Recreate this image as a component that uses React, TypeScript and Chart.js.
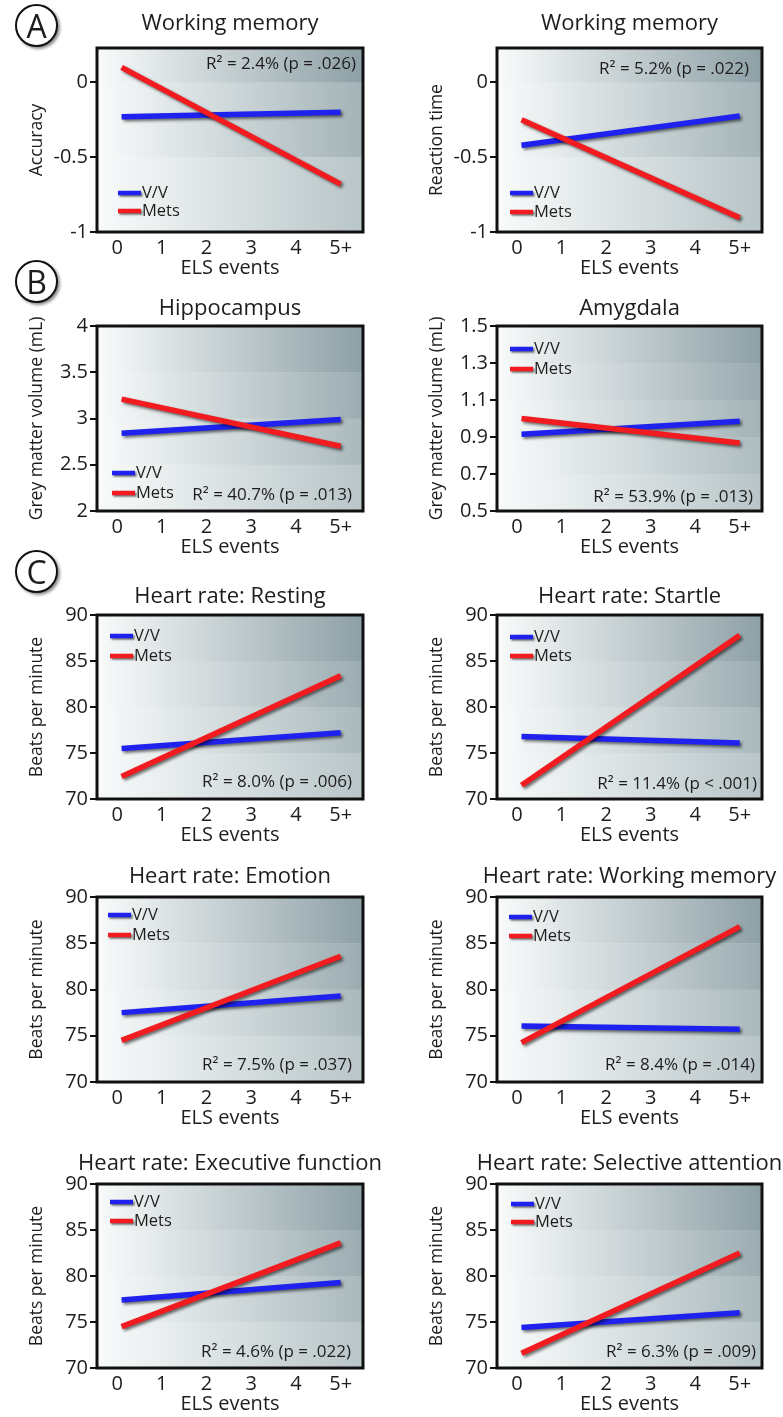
import React, { useEffect, useRef } from "react";
import { Chart, registerables } from "chart.js";

Chart.register(...registerables);

const FONT = "'Open Sans', 'Noto Sans', 'DejaVu Sans', sans-serif";
const TEXT = "#1e1c1d";
const BLUE = "#1f22ee";
const RED = "#f21b1f";

// ---- data ----
const elsLabels = ["0", "1", "2", "3", "4", "5+"];
const elsTickValues = [0, 1, 2, 3, 4, 5];
const lineX = [0.1, 5.0];

const wmAccuracyVV = [-0.23, -0.2];
const wmAccuracyMets = [0.1, -0.68];
const wmReactionVV = [-0.42, -0.225];
const wmReactionMets = [-0.25, -0.905];
const hippocampusVV = [2.84, 2.99];
const hippocampusMets = [3.21, 2.7];
const amygdalaVV = [0.915, 0.985];
const amygdalaMets = [1.0, 0.867];
const restingVV = [75.5, 77.2];
const restingMets = [72.45, 83.4];
const startleVV = [76.8, 76.1];
const startleMets = [71.5, 87.8];
const emotionVV = [77.5, 79.3];
const emotionMets = [74.5, 83.6];
const hrWorkingVV = [76.05, 75.7];
const hrWorkingMets = [74.25, 86.8];
const executiveVV = [77.4, 79.3];
const executiveMets = [74.5, 83.6];
const selectiveVV = [74.4, 76.0];
const selectiveMets = [71.6, 82.5];

const cogTicks = [-1, -0.5, 0];
const cogTickLabels = ["-1", "-0.5", "0"];
const hippoTicks = [2, 2.5, 3, 3.5, 4];
const hippoTickLabels = ["2", "2.5", "3", "3.5", "4"];
const amygTicks = [0.5, 0.7, 0.9, 1.1, 1.3, 1.5];
const amygTickLabels = ["0.5", "0.7", "0.9", "1.1", "1.3", "1.5"];
const hrTicks = [70, 75, 80, 85, 90];
const hrTickLabels = ["70", "75", "80", "85", "90"];

const seriesNames = ["V/V", "Mets"];
const xAxisTitle = "ELS events";

// ---- layout ----
const COLS = [
  { left: 97, right: 363, canvasX: 0, canvasW: 390 },
  { left: 497, right: 762, canvasX: 390, canvasW: 393 },
];
const ROWS = [
  { top: 48, bottom: 232, titleDy: 24 },
  { top: 326, bottom: 511, titleDy: 17 },
  { top: 615, bottom: 799, titleDy: 18 },
  { top: 897, bottom: 1082, titleDy: 20 },
  { top: 1184, bottom: 1368, titleDy: 20 },
];

type Anchor = "top" | "bottom";
interface PanelCfg {
  col: number;
  row: number;
  title: string;
  yTitle: string;
  vv: number[];
  mets: number[];
  yMin: number;
  yMax: number;
  yTicks: number[];
  yLabels: string[];
  r2: string;
  legend: { anchor: Anchor; dx: number; dy1: number; dy2: number };
  r2pos: { anchor: Anchor; dx: number; dy: number };
}

const panels: PanelCfg[] = [
  {
    col: 0, row: 0, title: "Working memory", yTitle: "Accuracy",
    vv: wmAccuracyVV, mets: wmAccuracyMets, yMin: -1, yMax: 0.23,
    yTicks: cogTicks, yLabels: cogTickLabels, r2: "R² = 2.4% (p = .026)",
    legend: { anchor: "bottom", dx: 21, dy1: -39, dy2: -21 },
    r2pos: { anchor: "top", dx: -7, dy: 16 },
  },
  {
    col: 1, row: 0, title: "Working memory", yTitle: "Reaction time",
    vv: wmReactionVV, mets: wmReactionMets, yMin: -1, yMax: 0.23,
    yTicks: cogTicks, yLabels: cogTickLabels, r2: "R² = 5.2% (p = .022)",
    legend: { anchor: "bottom", dx: 13, dy1: -39, dy2: -20 },
    r2pos: { anchor: "top", dx: -13, dy: 21 },
  },
  {
    col: 0, row: 1, title: "Hippocampus", yTitle: "Grey matter volume (mL)",
    vv: hippocampusVV, mets: hippocampusMets, yMin: 2, yMax: 4,
    yTicks: hippoTicks, yLabels: hippoTickLabels, r2: "R² = 40.7% (p = .013)",
    legend: { anchor: "bottom", dx: 15, dy1: -38, dy2: -18 },
    r2pos: { anchor: "bottom", dx: -11, dy: -16 },
  },
  {
    col: 1, row: 1, title: "Amygdala", yTitle: "Grey matter volume (mL)",
    vv: amygdalaVV, mets: amygdalaMets, yMin: 0.5, yMax: 1.5,
    yTicks: amygTicks, yLabels: amygTickLabels, r2: "R² = 53.9% (p = .013)",
    legend: { anchor: "top", dx: 13, dy1: 23, dy2: 43 },
    r2pos: { anchor: "bottom", dx: -9, dy: -14 },
  },
  {
    col: 0, row: 2, title: "Heart rate: Resting", yTitle: "Beats per minute",
    vv: restingVV, mets: restingMets, yMin: 70, yMax: 90,
    yTicks: hrTicks, yLabels: hrTickLabels, r2: "R² = 8.0% (p = .006)",
    legend: { anchor: "top", dx: 13, dy1: 21, dy2: 41 },
    r2pos: { anchor: "bottom", dx: -11, dy: -17 },
  },
  {
    col: 1, row: 2, title: "Heart rate: Startle", yTitle: "Beats per minute",
    vv: startleVV, mets: startleMets, yMin: 70, yMax: 90,
    yTicks: hrTicks, yLabels: hrTickLabels, r2: "R² = 11.4% (p < .001)",
    legend: { anchor: "top", dx: 13, dy1: 22, dy2: 41 },
    r2pos: { anchor: "bottom", dx: -5, dy: -15 },
  },
  {
    col: 0, row: 3, title: "Heart rate: Emotion", yTitle: "Beats per minute",
    vv: emotionVV, mets: emotionMets, yMin: 70, yMax: 90,
    yTicks: hrTicks, yLabels: hrTickLabels, r2: "R² = 7.5% (p = .037)",
    legend: { anchor: "top", dx: 11, dy1: 18, dy2: 38 },
    r2pos: { anchor: "bottom", dx: -11, dy: -17 },
  },
  {
    col: 1, row: 3, title: "Heart rate: Working memory", yTitle: "Beats per minute",
    vv: hrWorkingVV, mets: hrWorkingMets, yMin: 70, yMax: 90,
    yTicks: hrTicks, yLabels: hrTickLabels, r2: "R² = 8.4% (p = .014)",
    legend: { anchor: "top", dx: 12, dy1: 20, dy2: 39 },
    r2pos: { anchor: "bottom", dx: -7, dy: -17 },
  },
  {
    col: 0, row: 4, title: "Heart rate: Executive function", yTitle: "Beats per minute",
    vv: executiveVV, mets: executiveMets, yMin: 70, yMax: 90,
    yTicks: hrTicks, yLabels: hrTickLabels, r2: "R² = 4.6% (p = .022)",
    legend: { anchor: "top", dx: 13, dy1: 18, dy2: 37 },
    r2pos: { anchor: "bottom", dx: -12, dy: -16 },
  },
  {
    col: 1, row: 4, title: "Heart rate: Selective attention", yTitle: "Beats per minute",
    vv: selectiveVV, mets: selectiveMets, yMin: 70, yMax: 90,
    yTicks: hrTicks, yLabels: hrTickLabels, r2: "R² = 6.3% (p = .009)",
    legend: { anchor: "top", dx: 14, dy1: 20, dy2: 38 },
    r2pos: { anchor: "bottom", dx: -6, dy: -16 },
  },
];

const PAD_TOP = 48;
const X_AXIS_H = 48;
const PAD_BOTTOM = 2;
const Y_AXIS_W = 70;

function lerp(a: number, b: number, t: number) {
  return Math.round(a + (b - a) * t);
}

const backgroundPlugin = {
  id: "panelBackground",
  beforeDraw(chart: any) {
    const { ctx, chartArea: a, scales } = chart;
    const y = scales.y;
    const vals: number[] = [y.max];
    const tickVals = y.ticks.map((t: any) => t.value).sort((p: number, q: number) => q - p);
    for (const v of tickVals) if (v < vals[vals.length - 1] - 1e-9 && v > y.min + 1e-9) vals.push(v);
    vals.push(y.min);
    const n = vals.length - 1;
    const top = [141, 160, 166];
    const bot = [184, 197, 200];
    ctx.save();
    for (let k = 0; k < n; k++) {
      const t = n > 1 ? k / (n - 1) : 0;
      const c = `rgb(${lerp(top[0], bot[0], t)},${lerp(top[1], bot[1], t)},${lerp(top[2], bot[2], t)})`;
      const y0 = y.getPixelForValue(vals[k]);
      const y1 = y.getPixelForValue(vals[k + 1]);
      const g = ctx.createLinearGradient(a.left, 0, a.right, 0);
      g.addColorStop(0, "#f9fbfb");
      g.addColorStop(1, c);
      ctx.fillStyle = g;
      ctx.fillRect(a.left, Math.min(y0, y1), a.width, Math.abs(y1 - y0) + 0.5);
    }
    ctx.restore();
  },
};

const shadowPlugin = {
  id: "lineShadow",
  beforeDatasetsDraw(chart: any) {
    const ctx = chart.ctx;
    ctx.save();
    ctx.shadowColor = "rgba(0,0,0,0.55)";
    ctx.shadowBlur = 3;
    ctx.shadowOffsetX = 2;
    ctx.shadowOffsetY = 2;
  },
  afterDatasetsDraw(chart: any) {
    chart.ctx.restore();
  },
};

function makeDecorPlugin(cfg: PanelCfg, titleDy: number) {
  return {
    id: "panelDecor",
    afterDraw(chart: any) {
      const { ctx, chartArea: a } = chart;
      ctx.save();
      // frame
      ctx.strokeStyle = "#111";
      ctx.lineWidth = 3;
      ctx.strokeRect(a.left, a.top, a.right - a.left, a.bottom - a.top);

      // title
      ctx.fillStyle = TEXT;
      ctx.font = `22px ${FONT}`;
      ctx.textAlign = "center";
      ctx.textBaseline = "middle";
      ctx.fillText(cfg.title, (a.left + a.right) / 2, a.top - titleDy);

      // legend
      const lg = cfg.legend;
      const baseY = lg.anchor === "top" ? a.top : a.bottom;
      const rows = [
        { name: seriesNames[0], color: BLUE, y: baseY + lg.dy1 },
        { name: seriesNames[1], color: RED, y: baseY + lg.dy2 },
      ];
      ctx.font = `16.5px ${FONT}`;
      ctx.textAlign = "left";
      for (const r of rows) {
        const x0 = a.left + lg.dx;
        ctx.save();
        ctx.shadowColor = "rgba(0,0,0,0.55)";
        ctx.shadowBlur = 2;
        ctx.shadowOffsetX = 1.5;
        ctx.shadowOffsetY = 1.5;
        ctx.strokeStyle = r.color;
        ctx.lineWidth = 4.5;
        ctx.beginPath();
        ctx.moveTo(x0, r.y);
        ctx.lineTo(x0 + 23, r.y);
        ctx.stroke();
        ctx.restore();
        ctx.fillStyle = TEXT;
        ctx.fillText(r.name, x0 + 24, r.y + 0.5);
      }

      // R² annotation
      const rp = cfg.r2pos;
      ctx.font = `17px ${FONT}`;
      ctx.textAlign = "right";
      ctx.fillStyle = TEXT;
      ctx.fillText(cfg.r2, a.right + rp.dx, (rp.anchor === "top" ? a.top : a.bottom) + rp.dy);
      ctx.restore();
    },
  };
}

function Panel({ cfg }: { cfg: PanelCfg }) {
  const ref = useRef<HTMLCanvasElement>(null);
  const col = COLS[cfg.col];
  const row = ROWS[cfg.row];
  const boxH = row.bottom - row.top;
  const canvasY = row.top - PAD_TOP;
  const canvasH = PAD_TOP + boxH + X_AXIS_H + PAD_BOTTOM;

  useEffect(() => {
    const chart = new Chart(ref.current as HTMLCanvasElement, {
      type: "line",
      data: {
        datasets: [
          {
            label: seriesNames[1],
            data: cfg.mets.map((v, i) => ({ x: lineX[i], y: v })),
            borderColor: RED,
            borderWidth: 5.5,
            pointRadius: 0,
            borderCapStyle: "butt",
            order: 0,
          },
          {
            label: seriesNames[0],
            data: cfg.vv.map((v, i) => ({ x: lineX[i], y: v })),
            borderColor: BLUE,
            borderWidth: 5.5,
            pointRadius: 0,
            borderCapStyle: "butt",
            order: 1,
          },
        ],
      },
      options: {
        responsive: false,
        animation: false,
        devicePixelRatio: 1,
        events: [],
        layout: {
          padding: {
            left: col.left - col.canvasX - Y_AXIS_W,
            right: col.canvasX + col.canvasW - col.right,
            top: PAD_TOP,
            bottom: PAD_BOTTOM,
          },
        },
        plugins: {
          legend: { display: false },
          tooltip: { enabled: false },
          title: { display: false },
        },
        scales: {
          x: {
            type: "linear",
            min: -0.45,
            max: 5.5,
            afterBuildTicks: (s: any) => {
              s.ticks = elsTickValues.map((v) => ({ value: v }));
            },
            afterFit: (s: any) => {
              s.height = X_AXIS_H;
            },
            grid: { display: false, drawTicks: false },
            border: { display: false },
            ticks: {
              autoSkip: false,
              maxRotation: 0,
              padding: 4,
              color: TEXT,
              font: { family: FONT, size: 20 },
              callback: (_v: any, i: number) => elsLabels[i],
            },
            title: {
              display: true,
              text: xAxisTitle,
              color: TEXT,
              font: { family: FONT, size: 20 },
              padding: 0,
            },
          },
          y: {
            type: "linear",
            min: cfg.yMin,
            max: cfg.yMax,
            afterBuildTicks: (s: any) => {
              s.ticks = cfg.yTicks.map((v) => ({ value: v }));
            },
            afterFit: (s: any) => {
              s.width = Y_AXIS_W;
            },
            grid: {
              drawOnChartArea: false,
              drawTicks: true,
              tickLength: 7,
              color: "#111",
              lineWidth: 2,
            },
            border: { display: false },
            ticks: {
              autoSkip: false,
              padding: 2,
              color: TEXT,
              font: { family: FONT, size: 20 },
              callback: (_v: any, i: number) => cfg.yLabels[i],
            },
            title: {
              display: true,
              text: cfg.yTitle,
              color: TEXT,
              font: { family: FONT, size: 17.5 },
              padding: 0,
            },
          },
        },
      } as any,
      plugins: [backgroundPlugin, shadowPlugin, makeDecorPlugin(cfg, row.titleDy)],
    });
    return () => chart.destroy();
  }, []);

  return (
    <canvas
      ref={ref}
      width={col.canvasW}
      height={canvasH}
      style={{
        position: "absolute",
        left: col.canvasX,
        top: canvasY,
        width: col.canvasW,
        height: canvasH,
      }}
    />
  );
}

const panelLetters = [
  { letter: "A", cx: 37, cy: 26 },
  { letter: "B", cx: 37, cy: 282 },
  { letter: "C", cx: 37, cy: 572 },
];

export default function App() {
  return (
    <div
      style={{
        position: "absolute",
        left: 0,
        top: 0,
        width: 783,
        height: 1417,
        overflow: "hidden",
        background: "#ffffff",
      }}
    >
      {panels.map((p, i) => (
        <Panel key={i} cfg={p} />
      ))}
      {panelLetters.map((l) => (
        <div
          key={l.letter}
          style={{
            position: "absolute",
            left: l.cx - 22,
            top: l.cy - 22,
            width: 39,
            height: 39,
            border: "2.5px solid #111",
            borderRadius: "50%",
            background: "#fff",
            boxShadow: "2px 2px 3px rgba(0,0,0,0.45)",
            display: "flex",
            alignItems: "center",
            justifyContent: "center",
            fontFamily: FONT,
            fontSize: 32,
            lineHeight: 1,
            color: TEXT,
            zIndex: 5,
          }}
        >
          {l.letter}
        </div>
      ))}
    </div>
  );
}
